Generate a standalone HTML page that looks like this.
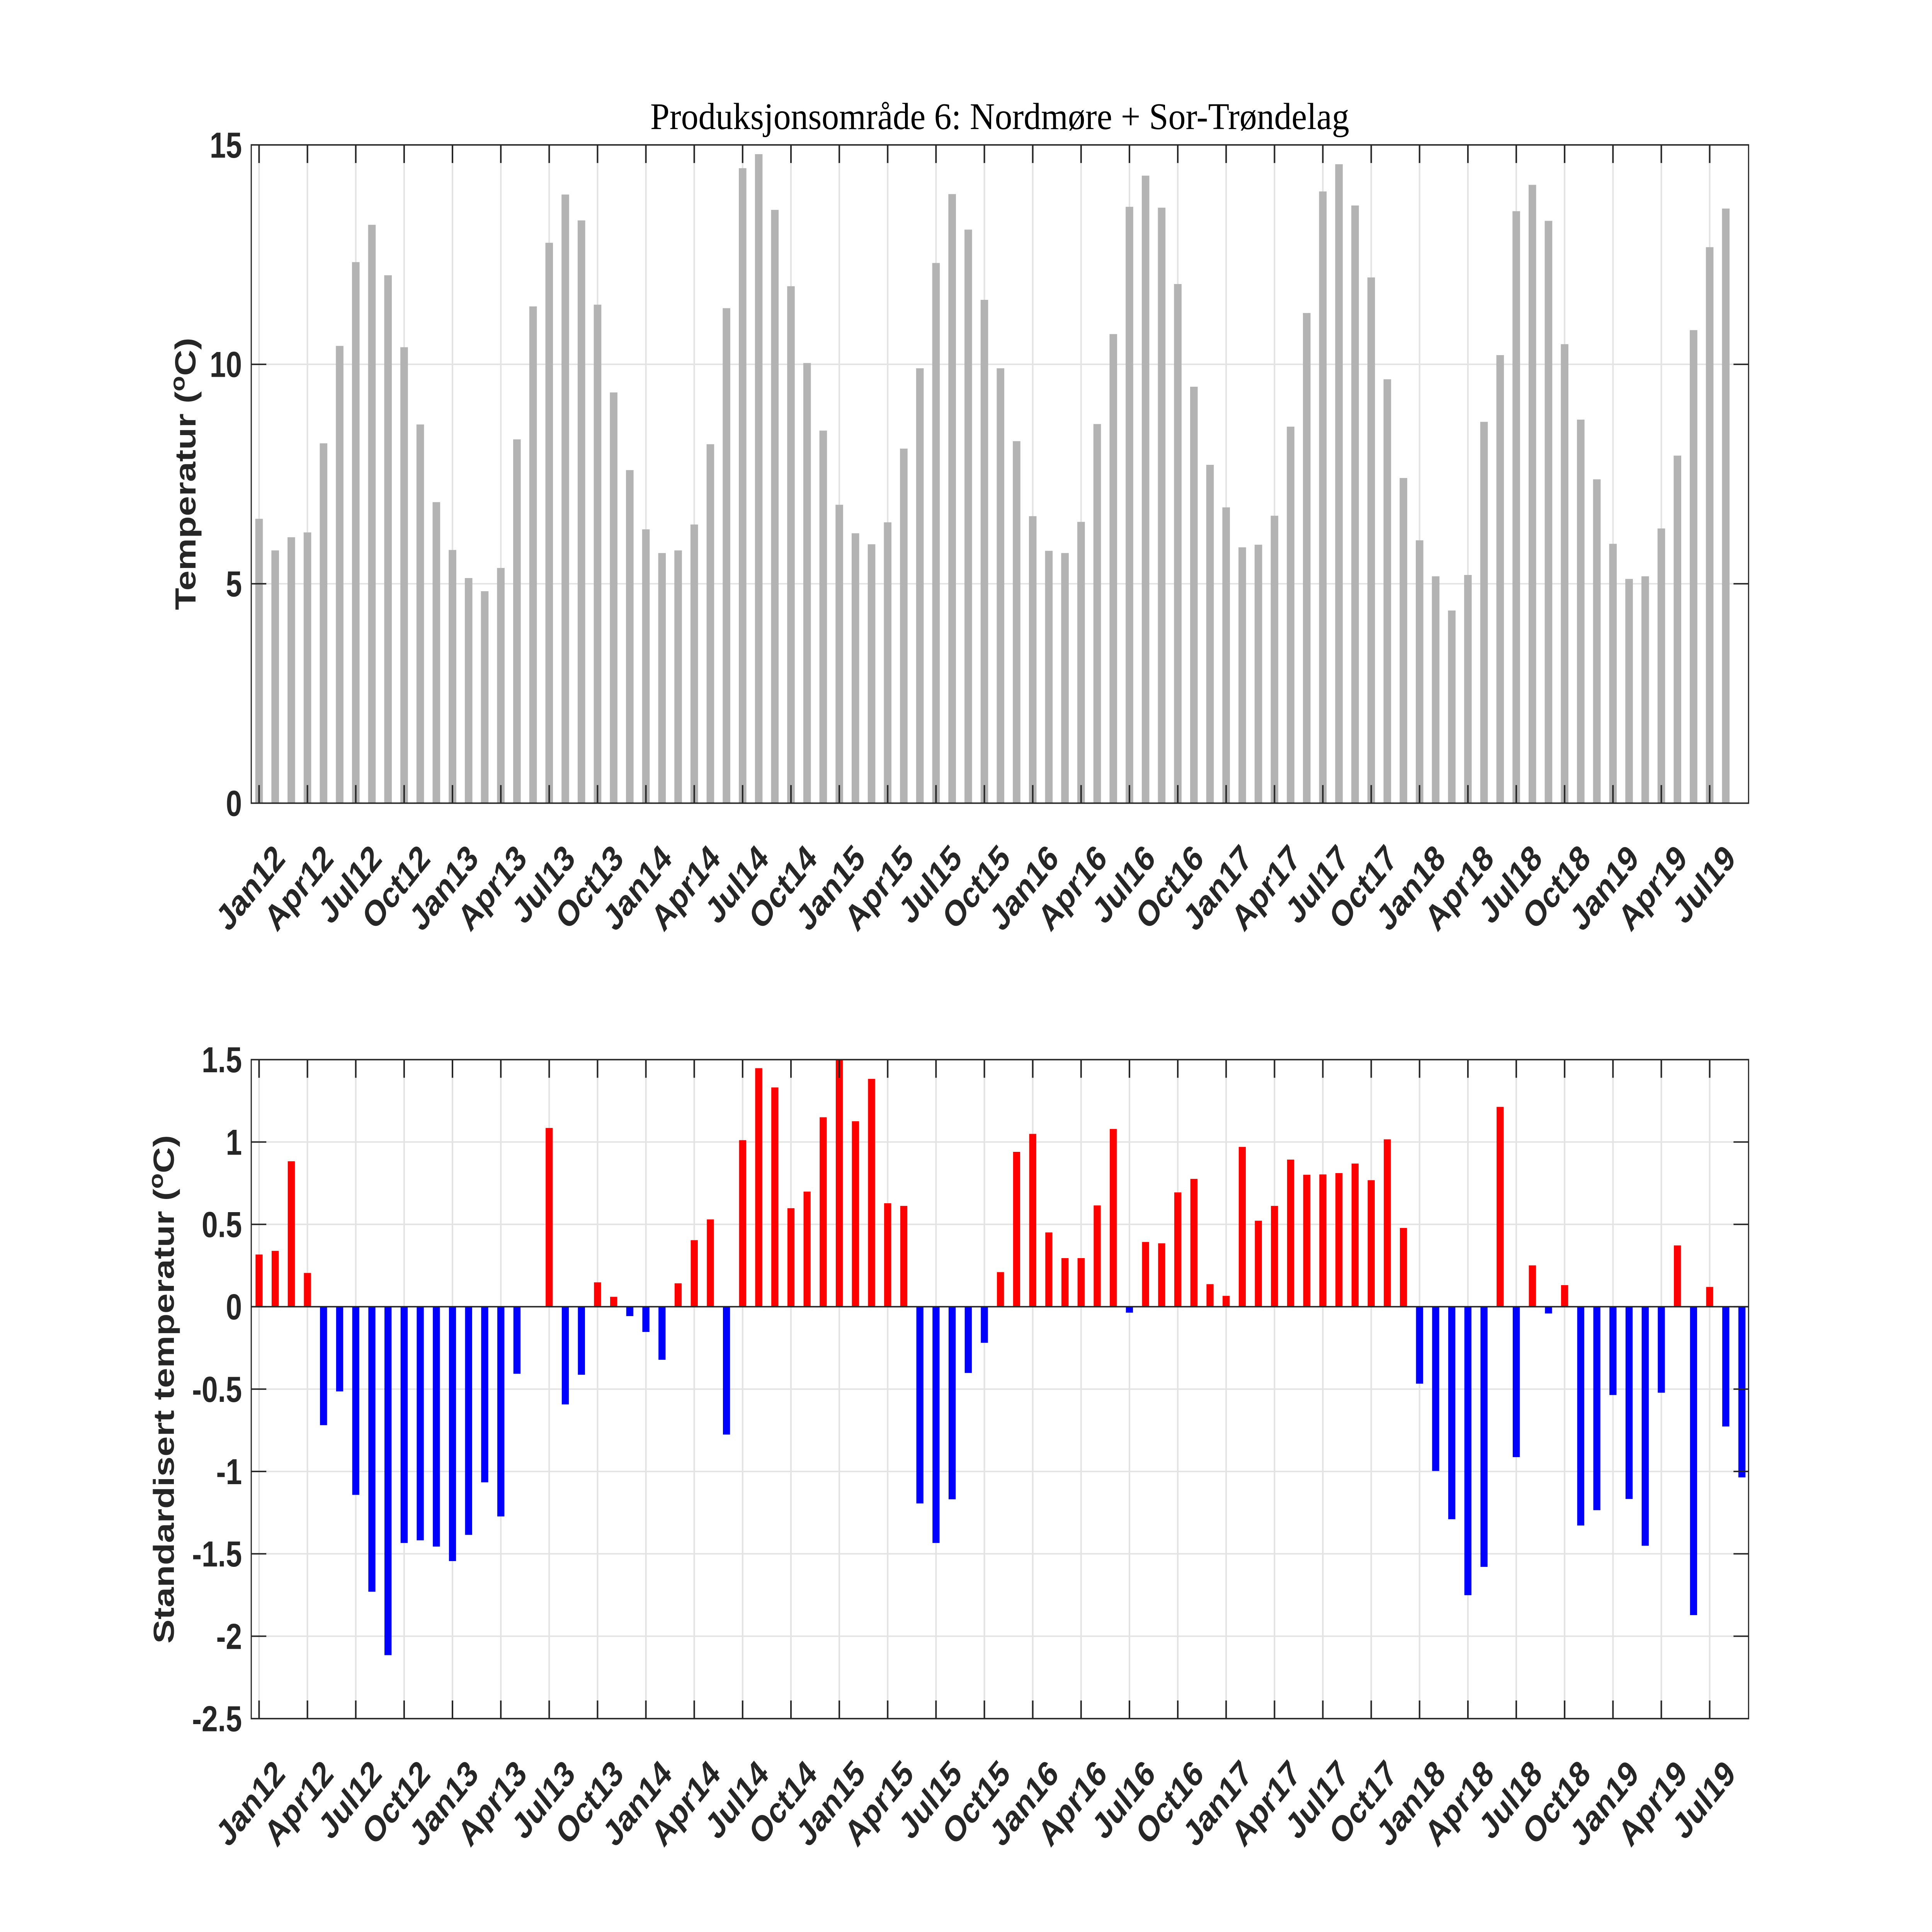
<!DOCTYPE html>
<html><head><meta charset="utf-8"><style>html,body{margin:0;padding:0;background:#fff;overflow:hidden;width:100vw;height:100vh}svg{display:block;width:100vw;height:100vh}</style></head>
<body>
<svg xmlns="http://www.w3.org/2000/svg" viewBox="0 0 6667 5333" preserveAspectRatio="none">
<rect width="6667" height="5333" fill="#fff"/>
<defs>
<g id="vgrid">
<path d="M894,0V1M1060.9,0V1M1227.7,0V1M1394.6,0V1M1561.4,0V1M1728.3,0V1M1895.2,0V1M2062,0V1M2228.9,0V1M2395.7,0V1M2562.6,0V1M2729.5,0V1M2896.3,0V1M3063.2,0V1M3230,0V1M3396.9,0V1M3563.8,0V1M3730.6,0V1M3897.5,0V1M4064.3,0V1M4231.2,0V1M4398.1,0V1M4564.9,0V1M4731.8,0V1M4898.6,0V1M5065.5,0V1M5232.4,0V1M5399.2,0V1M5566.1,0V1M5732.9,0V1M5899.8,0V1" vector-effect="non-scaling-stroke"/>
</g>
</defs>

<text x="3450" y="356" text-anchor="middle" font-family="Liberation Serif, serif" font-size="104" fill="#000" textLength="2412" lengthAdjust="spacingAndGlyphs">Produksjonsområde 6:  Nordmøre + Sor-Trøndelag</text>

<g stroke="#e3e3e3" stroke-width="4" fill="none">
<use href="#vgrid" transform="translate(0,400) scale(1,1817)"/>
<path d="M867,1611.4H6034M867,1005.7H6034"/>
</g>
<g transform="translate(894,2217) scale(55.62,-121.13)" fill="#b3b3b3">
<rect x="-0.235" y="0" width="0.47" height="6.48"/>
<rect x="0.765" y="0" width="0.47" height="5.76"/>
<rect x="1.765" y="0" width="0.47" height="6.06"/>
<rect x="2.765" y="0" width="0.47" height="6.17"/>
<rect x="3.765" y="0" width="0.47" height="8.20"/>
<rect x="4.765" y="0" width="0.47" height="10.42"/>
<rect x="5.765" y="0" width="0.47" height="12.33"/>
<rect x="6.765" y="0" width="0.47" height="13.18"/>
<rect x="7.765" y="0" width="0.47" height="12.03"/>
<rect x="8.765" y="0" width="0.47" height="10.39"/>
<rect x="9.765" y="0" width="0.47" height="8.63"/>
<rect x="10.765" y="0" width="0.47" height="6.86"/>
<rect x="11.765" y="0" width="0.47" height="5.77"/>
<rect x="12.765" y="0" width="0.47" height="5.13"/>
<rect x="13.765" y="0" width="0.47" height="4.83"/>
<rect x="14.765" y="0" width="0.47" height="5.36"/>
<rect x="15.765" y="0" width="0.47" height="8.29"/>
<rect x="16.765" y="0" width="0.47" height="11.32"/>
<rect x="17.765" y="0" width="0.47" height="12.77"/>
<rect x="18.765" y="0" width="0.47" height="13.87"/>
<rect x="19.765" y="0" width="0.47" height="13.28"/>
<rect x="20.765" y="0" width="0.47" height="11.36"/>
<rect x="21.765" y="0" width="0.47" height="9.36"/>
<rect x="22.765" y="0" width="0.47" height="7.59"/>
<rect x="23.765" y="0" width="0.47" height="6.24"/>
<rect x="24.765" y="0" width="0.47" height="5.70"/>
<rect x="25.765" y="0" width="0.47" height="5.76"/>
<rect x="26.765" y="0" width="0.47" height="6.35"/>
<rect x="27.765" y="0" width="0.47" height="8.18"/>
<rect x="28.765" y="0" width="0.47" height="11.28"/>
<rect x="29.765" y="0" width="0.47" height="14.47"/>
<rect x="30.765" y="0" width="0.47" height="14.79"/>
<rect x="31.765" y="0" width="0.47" height="13.52"/>
<rect x="32.765" y="0" width="0.47" height="11.78"/>
<rect x="33.765" y="0" width="0.47" height="10.03"/>
<rect x="34.765" y="0" width="0.47" height="8.49"/>
<rect x="35.765" y="0" width="0.47" height="6.80"/>
<rect x="36.765" y="0" width="0.47" height="6.15"/>
<rect x="37.765" y="0" width="0.47" height="5.90"/>
<rect x="38.765" y="0" width="0.47" height="6.40"/>
<rect x="39.765" y="0" width="0.47" height="8.08"/>
<rect x="40.765" y="0" width="0.47" height="9.91"/>
<rect x="41.765" y="0" width="0.47" height="12.31"/>
<rect x="42.765" y="0" width="0.47" height="13.88"/>
<rect x="43.765" y="0" width="0.47" height="13.07"/>
<rect x="44.765" y="0" width="0.47" height="11.47"/>
<rect x="45.765" y="0" width="0.47" height="9.91"/>
<rect x="46.765" y="0" width="0.47" height="8.25"/>
<rect x="47.765" y="0" width="0.47" height="6.54"/>
<rect x="48.765" y="0" width="0.47" height="5.75"/>
<rect x="49.765" y="0" width="0.47" height="5.70"/>
<rect x="50.765" y="0" width="0.47" height="6.41"/>
<rect x="51.765" y="0" width="0.47" height="8.64"/>
<rect x="52.765" y="0" width="0.47" height="10.69"/>
<rect x="53.765" y="0" width="0.47" height="13.59"/>
<rect x="54.765" y="0" width="0.47" height="14.30"/>
<rect x="55.765" y="0" width="0.47" height="13.57"/>
<rect x="56.765" y="0" width="0.47" height="11.83"/>
<rect x="57.765" y="0" width="0.47" height="9.49"/>
<rect x="58.765" y="0" width="0.47" height="7.71"/>
<rect x="59.765" y="0" width="0.47" height="6.74"/>
<rect x="60.765" y="0" width="0.47" height="5.83"/>
<rect x="61.765" y="0" width="0.47" height="5.89"/>
<rect x="62.765" y="0" width="0.47" height="6.55"/>
<rect x="63.765" y="0" width="0.47" height="8.58"/>
<rect x="64.765" y="0" width="0.47" height="11.17"/>
<rect x="65.765" y="0" width="0.47" height="13.94"/>
<rect x="66.765" y="0" width="0.47" height="14.56"/>
<rect x="67.765" y="0" width="0.47" height="13.62"/>
<rect x="68.765" y="0" width="0.47" height="11.98"/>
<rect x="69.765" y="0" width="0.47" height="9.66"/>
<rect x="70.765" y="0" width="0.47" height="7.41"/>
<rect x="71.765" y="0" width="0.47" height="5.99"/>
<rect x="72.765" y="0" width="0.47" height="5.17"/>
<rect x="73.765" y="0" width="0.47" height="4.39"/>
<rect x="74.765" y="0" width="0.47" height="5.20"/>
<rect x="75.765" y="0" width="0.47" height="8.69"/>
<rect x="76.765" y="0" width="0.47" height="10.21"/>
<rect x="77.765" y="0" width="0.47" height="13.49"/>
<rect x="78.765" y="0" width="0.47" height="14.09"/>
<rect x="79.765" y="0" width="0.47" height="13.27"/>
<rect x="80.765" y="0" width="0.47" height="10.46"/>
<rect x="81.765" y="0" width="0.47" height="8.74"/>
<rect x="82.765" y="0" width="0.47" height="7.38"/>
<rect x="83.765" y="0" width="0.47" height="5.91"/>
<rect x="84.765" y="0" width="0.47" height="5.11"/>
<rect x="85.765" y="0" width="0.47" height="5.17"/>
<rect x="86.765" y="0" width="0.47" height="6.26"/>
<rect x="87.765" y="0" width="0.47" height="7.92"/>
<rect x="88.765" y="0" width="0.47" height="10.78"/>
<rect x="89.765" y="0" width="0.47" height="12.67"/>
<rect x="90.765" y="0" width="0.47" height="13.55"/>
</g>
<g stroke="#262626" stroke-width="4" fill="none">
<rect x="867" y="400" width="5167" height="1817"/>
<use href="#vgrid" transform="translate(0,400) scale(1,50)"/>
<use href="#vgrid" transform="translate(0,2167) scale(1,50)"/>
<path d="M867,1611.4h52M867,1005.7h52M6034,1611.4h-52M6034,1005.7h-52"/>
</g>
<g font-family="Liberation Sans, Arial, sans-serif" font-weight="bold" font-size="100" fill="#262626" text-anchor="end">
<text x="835" y="2217" dy="0.35em">0</text>
<text x="835" y="1611.4" dy="0.35em">5</text>
<text x="835" y="1005.7" dy="0.35em">10</text>
<text x="835" y="400" dy="0.35em">15</text>
</g>
<text transform="translate(675,1308) rotate(-90)" text-anchor="middle" font-family="Liberation Sans, Arial, sans-serif" font-weight="bold" font-size="100" fill="#262626">Temperatur (<tspan font-size="70" dy="-38">o</tspan><tspan dy="38">C)</tspan></text>

<g font-family="Liberation Sans, Arial, sans-serif" font-weight="bold" font-size="100" fill="#262626" text-anchor="end">
<text transform="translate(964,2350) rotate(-45)" dy="0.35em">Jan12</text>
<text transform="translate(1130.9,2350) rotate(-45)" dy="0.35em">Apr12</text>
<text transform="translate(1297.7,2350) rotate(-45)" dy="0.35em">Jul12</text>
<text transform="translate(1464.6,2350) rotate(-45)" dy="0.35em">Oct12</text>
<text transform="translate(1631.4,2350) rotate(-45)" dy="0.35em">Jan13</text>
<text transform="translate(1798.3,2350) rotate(-45)" dy="0.35em">Apr13</text>
<text transform="translate(1965.2,2350) rotate(-45)" dy="0.35em">Jul13</text>
<text transform="translate(2132,2350) rotate(-45)" dy="0.35em">Oct13</text>
<text transform="translate(2298.9,2350) rotate(-45)" dy="0.35em">Jan14</text>
<text transform="translate(2465.7,2350) rotate(-45)" dy="0.35em">Apr14</text>
<text transform="translate(2632.6,2350) rotate(-45)" dy="0.35em">Jul14</text>
<text transform="translate(2799.5,2350) rotate(-45)" dy="0.35em">Oct14</text>
<text transform="translate(2966.3,2350) rotate(-45)" dy="0.35em">Jan15</text>
<text transform="translate(3133.2,2350) rotate(-45)" dy="0.35em">Apr15</text>
<text transform="translate(3300,2350) rotate(-45)" dy="0.35em">Jul15</text>
<text transform="translate(3466.9,2350) rotate(-45)" dy="0.35em">Oct15</text>
<text transform="translate(3633.8,2350) rotate(-45)" dy="0.35em">Jan16</text>
<text transform="translate(3800.6,2350) rotate(-45)" dy="0.35em">Apr16</text>
<text transform="translate(3967.5,2350) rotate(-45)" dy="0.35em">Jul16</text>
<text transform="translate(4134.3,2350) rotate(-45)" dy="0.35em">Oct16</text>
<text transform="translate(4301.2,2350) rotate(-45)" dy="0.35em">Jan17</text>
<text transform="translate(4468.1,2350) rotate(-45)" dy="0.35em">Apr17</text>
<text transform="translate(4634.9,2350) rotate(-45)" dy="0.35em">Jul17</text>
<text transform="translate(4801.8,2350) rotate(-45)" dy="0.35em">Oct17</text>
<text transform="translate(4968.6,2350) rotate(-45)" dy="0.35em">Jan18</text>
<text transform="translate(5135.5,2350) rotate(-45)" dy="0.35em">Apr18</text>
<text transform="translate(5302.4,2350) rotate(-45)" dy="0.35em">Jul18</text>
<text transform="translate(5469.2,2350) rotate(-45)" dy="0.35em">Oct18</text>
<text transform="translate(5636.1,2350) rotate(-45)" dy="0.35em">Jan19</text>
<text transform="translate(5802.9,2350) rotate(-45)" dy="0.35em">Apr19</text>
<text transform="translate(5969.8,2350) rotate(-45)" dy="0.35em">Jul19</text>
</g>

<g stroke="#e3e3e3" stroke-width="4" fill="none">
<use href="#vgrid" transform="translate(0,2925) scale(1,1819)"/>
<path d="M867,3152.4H6034M867,3379.7H6034M867,3834.4H6034M867,4061.8H6034M867,4289.1H6034M867,4516.5H6034"/>
</g>
<g transform="translate(894,3607) scale(55.62,-454.75)">
<g fill="#ff0000">
<rect x="-0.22" y="0" width="0.44" height="0.317"/>
<rect x="0.78" y="0" width="0.44" height="0.339"/>
<rect x="1.78" y="0" width="0.44" height="0.883"/>
<rect x="2.78" y="0" width="0.44" height="0.205"/>
<rect x="17.78" y="0" width="0.44" height="1.085"/>
<rect x="20.78" y="0" width="0.44" height="0.148"/>
<rect x="21.78" y="0" width="0.44" height="0.060"/>
<rect x="25.78" y="0" width="0.44" height="0.142"/>
<rect x="26.78" y="0" width="0.44" height="0.404"/>
<rect x="27.78" y="0" width="0.44" height="0.530"/>
<rect x="29.78" y="0" width="0.44" height="1.011"/>
<rect x="30.78" y="0" width="0.44" height="1.448"/>
<rect x="31.78" y="0" width="0.44" height="1.331"/>
<rect x="32.78" y="0" width="0.44" height="0.598"/>
<rect x="33.78" y="0" width="0.44" height="0.699"/>
<rect x="34.78" y="0" width="0.44" height="1.150"/>
<rect x="35.78" y="0" width="0.44" height="1.497"/>
<rect x="36.78" y="0" width="0.44" height="1.126"/>
<rect x="37.78" y="0" width="0.44" height="1.383"/>
<rect x="38.78" y="0" width="0.44" height="0.628"/>
<rect x="39.78" y="0" width="0.44" height="0.612"/>
<rect x="45.78" y="0" width="0.44" height="0.210"/>
<rect x="46.78" y="0" width="0.44" height="0.940"/>
<rect x="47.78" y="0" width="0.44" height="1.049"/>
<rect x="48.78" y="0" width="0.44" height="0.451"/>
<rect x="49.78" y="0" width="0.44" height="0.295"/>
<rect x="50.78" y="0" width="0.44" height="0.295"/>
<rect x="51.78" y="0" width="0.44" height="0.615"/>
<rect x="52.78" y="0" width="0.44" height="1.079"/>
<rect x="54.78" y="0" width="0.44" height="0.393"/>
<rect x="55.78" y="0" width="0.44" height="0.385"/>
<rect x="56.78" y="0" width="0.44" height="0.694"/>
<rect x="57.78" y="0" width="0.44" height="0.776"/>
<rect x="58.78" y="0" width="0.44" height="0.137"/>
<rect x="59.78" y="0" width="0.44" height="0.066"/>
<rect x="60.78" y="0" width="0.44" height="0.970"/>
<rect x="61.78" y="0" width="0.44" height="0.522"/>
<rect x="62.78" y="0" width="0.44" height="0.612"/>
<rect x="63.78" y="0" width="0.44" height="0.893"/>
<rect x="64.78" y="0" width="0.44" height="0.801"/>
<rect x="65.78" y="0" width="0.44" height="0.803"/>
<rect x="66.78" y="0" width="0.44" height="0.811"/>
<rect x="67.78" y="0" width="0.44" height="0.869"/>
<rect x="68.78" y="0" width="0.44" height="0.768"/>
<rect x="69.78" y="0" width="0.44" height="1.016"/>
<rect x="70.78" y="0" width="0.44" height="0.478"/>
<rect x="76.78" y="0" width="0.44" height="1.213"/>
<rect x="78.78" y="0" width="0.44" height="0.251"/>
<rect x="80.78" y="0" width="0.44" height="0.131"/>
<rect x="87.78" y="0" width="0.44" height="0.372"/>
<rect x="89.78" y="0" width="0.44" height="0.120"/>
</g>
<g fill="#0000ff">
<rect x="3.78" y="-0.719" width="0.44" height="0.719"/>
<rect x="4.78" y="-0.514" width="0.44" height="0.514"/>
<rect x="5.78" y="-1.142" width="0.44" height="1.142"/>
<rect x="6.78" y="-1.730" width="0.44" height="1.730"/>
<rect x="7.78" y="-2.115" width="0.44" height="2.115"/>
<rect x="8.78" y="-1.434" width="0.44" height="1.434"/>
<rect x="9.78" y="-1.418" width="0.44" height="1.418"/>
<rect x="10.78" y="-1.456" width="0.44" height="1.456"/>
<rect x="11.78" y="-1.544" width="0.44" height="1.544"/>
<rect x="12.78" y="-1.385" width="0.44" height="1.385"/>
<rect x="13.78" y="-1.066" width="0.44" height="1.066"/>
<rect x="14.78" y="-1.273" width="0.44" height="1.273"/>
<rect x="15.78" y="-0.407" width="0.44" height="0.407"/>
<rect x="18.78" y="-0.593" width="0.44" height="0.593"/>
<rect x="19.78" y="-0.413" width="0.44" height="0.413"/>
<rect x="22.78" y="-0.057" width="0.44" height="0.057"/>
<rect x="23.78" y="-0.153" width="0.44" height="0.153"/>
<rect x="24.78" y="-0.322" width="0.44" height="0.322"/>
<rect x="28.78" y="-0.776" width="0.44" height="0.776"/>
<rect x="40.78" y="-1.194" width="0.44" height="1.194"/>
<rect x="41.78" y="-1.434" width="0.44" height="1.434"/>
<rect x="42.78" y="-1.169" width="0.44" height="1.169"/>
<rect x="43.78" y="-0.402" width="0.44" height="0.402"/>
<rect x="44.78" y="-0.219" width="0.44" height="0.219"/>
<rect x="53.78" y="-0.036" width="0.44" height="0.036"/>
<rect x="71.78" y="-0.467" width="0.44" height="0.467"/>
<rect x="72.78" y="-0.997" width="0.44" height="0.997"/>
<rect x="73.78" y="-1.290" width="0.44" height="1.290"/>
<rect x="74.78" y="-1.751" width="0.44" height="1.751"/>
<rect x="75.78" y="-1.579" width="0.44" height="1.579"/>
<rect x="77.78" y="-0.913" width="0.44" height="0.913"/>
<rect x="79.78" y="-0.041" width="0.44" height="0.041"/>
<rect x="81.78" y="-1.328" width="0.44" height="1.328"/>
<rect x="82.78" y="-1.235" width="0.44" height="1.235"/>
<rect x="83.78" y="-0.536" width="0.44" height="0.536"/>
<rect x="84.78" y="-1.167" width="0.44" height="1.167"/>
<rect x="85.78" y="-1.451" width="0.44" height="1.451"/>
<rect x="86.78" y="-0.522" width="0.44" height="0.522"/>
<rect x="88.78" y="-1.872" width="0.44" height="1.872"/>
<rect x="90.78" y="-0.727" width="0.44" height="0.727"/>
<rect x="91.78" y="-1.036" width="0.44" height="1.036"/>
</g>
</g>
<g stroke="#262626" stroke-width="4" fill="none">
<path d="M867,3607H6034"/>
<rect x="867" y="2925" width="5167" height="1819"/>
<use href="#vgrid" transform="translate(0,2925) scale(1,50)"/>
<use href="#vgrid" transform="translate(0,4694) scale(1,50)"/>
<path d="M867,3152.4h52M867,3379.7h52M867,3607h52M867,3834.4h52M867,4061.8h52M867,4289.1h52M867,4516.5h52M6034,3152.4h-52M6034,3379.7h-52M6034,3607h-52M6034,3834.4h-52M6034,4061.8h-52M6034,4289.1h-52M6034,4516.5h-52"/>
</g>
<g font-family="Liberation Sans, Arial, sans-serif" font-weight="bold" font-size="100" fill="#262626" text-anchor="end">
<text x="835" y="2925" dy="0.35em">1.5</text>
<text x="835" y="3152.4" dy="0.35em">1</text>
<text x="835" y="3379.7" dy="0.35em">0.5</text>
<text x="835" y="3607" dy="0.35em">0</text>
<text x="835" y="3834.4" dy="0.35em">-0.5</text>
<text x="835" y="4061.8" dy="0.35em">-1</text>
<text x="835" y="4289.1" dy="0.35em">-1.5</text>
<text x="835" y="4516.5" dy="0.35em">-2</text>
<text x="835" y="4744" dy="0.35em">-2.5</text>
</g>
<text transform="translate(600,3835) rotate(-90)" text-anchor="middle" font-family="Liberation Sans, Arial, sans-serif" font-weight="bold" font-size="100" fill="#262626">Standardisert temperatur (<tspan font-size="70" dy="-38">o</tspan><tspan dy="38">C)</tspan></text>

<g font-family="Liberation Sans, Arial, sans-serif" font-weight="bold" font-size="100" fill="#262626" text-anchor="end">
<text transform="translate(964,4877) rotate(-45)" dy="0.35em">Jan12</text>
<text transform="translate(1130.9,4877) rotate(-45)" dy="0.35em">Apr12</text>
<text transform="translate(1297.7,4877) rotate(-45)" dy="0.35em">Jul12</text>
<text transform="translate(1464.6,4877) rotate(-45)" dy="0.35em">Oct12</text>
<text transform="translate(1631.4,4877) rotate(-45)" dy="0.35em">Jan13</text>
<text transform="translate(1798.3,4877) rotate(-45)" dy="0.35em">Apr13</text>
<text transform="translate(1965.2,4877) rotate(-45)" dy="0.35em">Jul13</text>
<text transform="translate(2132,4877) rotate(-45)" dy="0.35em">Oct13</text>
<text transform="translate(2298.9,4877) rotate(-45)" dy="0.35em">Jan14</text>
<text transform="translate(2465.7,4877) rotate(-45)" dy="0.35em">Apr14</text>
<text transform="translate(2632.6,4877) rotate(-45)" dy="0.35em">Jul14</text>
<text transform="translate(2799.5,4877) rotate(-45)" dy="0.35em">Oct14</text>
<text transform="translate(2966.3,4877) rotate(-45)" dy="0.35em">Jan15</text>
<text transform="translate(3133.2,4877) rotate(-45)" dy="0.35em">Apr15</text>
<text transform="translate(3300,4877) rotate(-45)" dy="0.35em">Jul15</text>
<text transform="translate(3466.9,4877) rotate(-45)" dy="0.35em">Oct15</text>
<text transform="translate(3633.8,4877) rotate(-45)" dy="0.35em">Jan16</text>
<text transform="translate(3800.6,4877) rotate(-45)" dy="0.35em">Apr16</text>
<text transform="translate(3967.5,4877) rotate(-45)" dy="0.35em">Jul16</text>
<text transform="translate(4134.3,4877) rotate(-45)" dy="0.35em">Oct16</text>
<text transform="translate(4301.2,4877) rotate(-45)" dy="0.35em">Jan17</text>
<text transform="translate(4468.1,4877) rotate(-45)" dy="0.35em">Apr17</text>
<text transform="translate(4634.9,4877) rotate(-45)" dy="0.35em">Jul17</text>
<text transform="translate(4801.8,4877) rotate(-45)" dy="0.35em">Oct17</text>
<text transform="translate(4968.6,4877) rotate(-45)" dy="0.35em">Jan18</text>
<text transform="translate(5135.5,4877) rotate(-45)" dy="0.35em">Apr18</text>
<text transform="translate(5302.4,4877) rotate(-45)" dy="0.35em">Jul18</text>
<text transform="translate(5469.2,4877) rotate(-45)" dy="0.35em">Oct18</text>
<text transform="translate(5636.1,4877) rotate(-45)" dy="0.35em">Jan19</text>
<text transform="translate(5802.9,4877) rotate(-45)" dy="0.35em">Apr19</text>
<text transform="translate(5969.8,4877) rotate(-45)" dy="0.35em">Jul19</text>
</g>
</svg>
</body></html>
